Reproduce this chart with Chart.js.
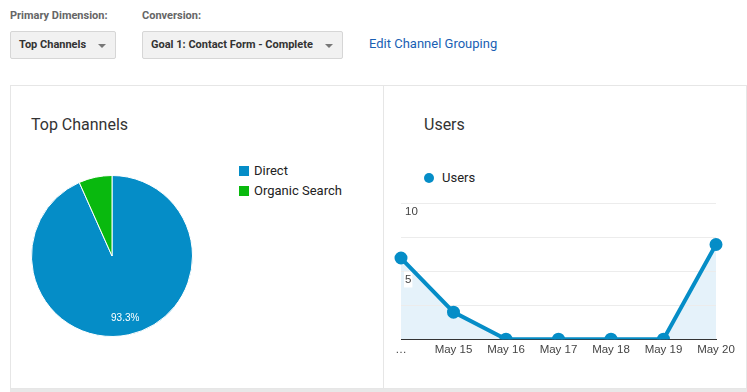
<!DOCTYPE html>
<html lang="en">
<head>
  <meta charset="UTF-8"/>
  <title>Top Channels</title>
  <script src="https://cdn.jsdelivr.net/npm/chart.js"></script>
  <style>
    * { box-sizing: border-box; margin: 0; padding: 0; }
    body {
      width: 747px; height: 392px; overflow: hidden;
      background: #fff; position: relative;
      font-family: Roboto, Arial, sans-serif; color: #333;
    }
    .lbl { position: absolute; top: 9px; font-size: 11px; font-weight: bold; color: #666; }
    .dd {
      position: absolute; top: 31px; height: 28px;
      background: #f1f1f1; border: 1px solid #d6d6d6; border-radius: 2px;
      font-size: 11px; font-weight: bold; color: #333;
      line-height: 26px; padding-left: 8px;
    }
    .dd:after {
      content: ''; position: absolute; right: 9px; top: 12px;
      border-left: 4px solid transparent; border-right: 4px solid transparent;
      border-top: 4px solid #777;
    }
    .link { position: absolute; left: 369px; top: 36px; font-size: 13px; color: #1a5fb4; }

    /* panels */
    #box { position: absolute; left: 10px; top: 85px; width: 737px; height: 304px; border: 1px solid #e6e6e6; }
    #divider { position: absolute; left: 383px; top: 85px; width: 1px; height: 304px; background: #e6e6e6; }
    #strip { position: absolute; left: 10px; top: 389px; width: 737px; height: 3px; background: #e8e8e8; }
    .title { position: absolute; top: 115px; font-size: 16px; color: #333; }

    .legend { position: absolute; font-size: 13px; color: #222; }
    .legend div { height: 20px; line-height: 20px; }
    .sw { display: inline-block; width: 10px; height: 10px; margin-right: 5px; vertical-align: -1px; }
    .dot { display: inline-block; width: 10px; height: 10px; border-radius: 50%; margin-right: 8px; vertical-align: -1px; }

    #pieWrap { position: absolute; left: 31px; top: 175px; width: 162px; height: 162px; }
    #lineWrap { position: absolute; left: 383px; top: 193px; width: 363px; height: 168px; }
  </style>
</head>
<body>
  <div class="lbl" style="left:10px">Primary Dimension:</div>
  <div class="lbl" style="left:142px">Conversion:</div>
  <div class="dd" style="left:10px; width:106px">Top Channels</div>
  <div class="dd" style="left:142px; width:201px">Goal 1: Contact Form - Complete</div>
  <div class="link">Edit Channel Grouping</div>

  <div id="box"></div>
  <div id="divider"></div>
  <div id="strip"></div>

  <div class="title" style="left:31px">Top Channels</div>
  <div class="title" style="left:424px">Users</div>

  <div class="legend" id="pieLegend" style="left:239px; top:161px"></div>
  <div class="legend" style="left:424px; top:168px"><div><span class="dot" style="background:#058dc7"></span>Users</div></div>

  <div id="pieWrap"><canvas id="pieChart"></canvas></div>
  <div id="lineWrap"><canvas id="lineChart"></canvas></div>

  <script>
    // pie data
    const channels = ['Direct', 'Organic Search'];
    const channelUsers = [14, 1];
    const channelColors = ['#058dc7', '#09b90e'];

    // line data
    const days = ['…', 'May 15', 'May 16', 'May 17', 'May 18', 'May 19', 'May 20'];
    const users = [6, 2, 0, 0, 0, 0, 7];
    const yTicks = [5, 10];

    // legend for the pie
    document.getElementById('pieLegend').innerHTML = channels.map((c, i) =>
      `<div><span class="sw" style="background:${channelColors[i]}"></span>${c}</div>`).join('');

    // percentage label inside big slices
    const sliceLabels = {
      id: 'sliceLabels',
      afterDatasetsDraw(chart) {
        const ctx = chart.ctx;
        const data = chart.data.datasets[0].data;
        const total = data.reduce((a, b) => a + b, 0);
        chart.getDatasetMeta(0).data.forEach((arc, i) => {
          const pct = data[i] / total * 100;
          if (pct < 10) return;
          const mid = (arc.startAngle + arc.endAngle) / 2;
          const r = arc.outerRadius * 0.79;
          ctx.save();
          ctx.fillStyle = '#fff';
          ctx.font = '10px "Liberation Sans", Arial, sans-serif';
          ctx.textAlign = 'center';
          ctx.textBaseline = 'middle';
          ctx.fillText(pct.toFixed(1) + '%', arc.x + Math.cos(mid) * r, arc.y + Math.sin(mid) * r);
          ctx.restore();
        });
      }
    };

    new Chart(document.getElementById('pieChart'), {
      type: 'pie',
      data: {
        labels: channels,
        datasets: [{
          data: channelUsers,
          backgroundColor: channelColors,
          borderColor: '#fff',
          borderWidth: 1
        }]
      },
      options: {
        responsive: true,
        maintainAspectRatio: false,
        animation: false,
        plugins: { legend: { display: false }, tooltip: { enabled: false } }
      },
      plugins: [sliceLabels]
    });

    const tickFont = { size: 11.5, family: '"Liberation Sans", Arial, sans-serif' };

    new Chart(document.getElementById('lineChart'), {
      type: 'line',
      data: {
        labels: days,
        datasets: [{
          label: 'Users',
          data: users,
          borderColor: '#058dc7',
          backgroundColor: '#e5f2fa',
          pointBackgroundColor: '#058dc7',
          pointBorderColor: '#058dc7',
          borderWidth: 4,
          pointRadius: 4.5,
          fill: true,
          tension: 0
        }]
      },
      options: {
        responsive: true,
        maintainAspectRatio: false,
        animation: false,
        layout: { padding: { left: 10, right: 30, top: 8, bottom: 0 } },
        scales: {
          x: {
            grid: { display: false, drawTicks: false },
            border: { display: true, color: '#333', width: 1 },
            ticks: { font: tickFont, color: '#444', padding: 4, maxRotation: 0, autoSkip: false }
          },
          y: {
            min: 0, max: 10,
            grid: { color: '#ececec', drawTicks: false },
            border: { display: false },
            ticks: {
              stepSize: 2.5, mirror: true, padding: 4, labelOffset: 8, autoSkip: false,
              font: tickFont, color: '#444',
              showLabelBackdrop: true, backdropPadding: 1,
              backdropColor: c => yTicks.includes(c.tick.value) ? '#fff' : 'rgba(0,0,0,0)',
              callback: v => yTicks.includes(v) ? v : ''
            }
          }
        },
        plugins: {
          // area goes under the grid and labels
          filler: { drawTime: 'beforeDraw' },
          legend: { display: false },
          tooltip: { enabled: false }
        }
      }
    });
  </script>
</body>
</html>
